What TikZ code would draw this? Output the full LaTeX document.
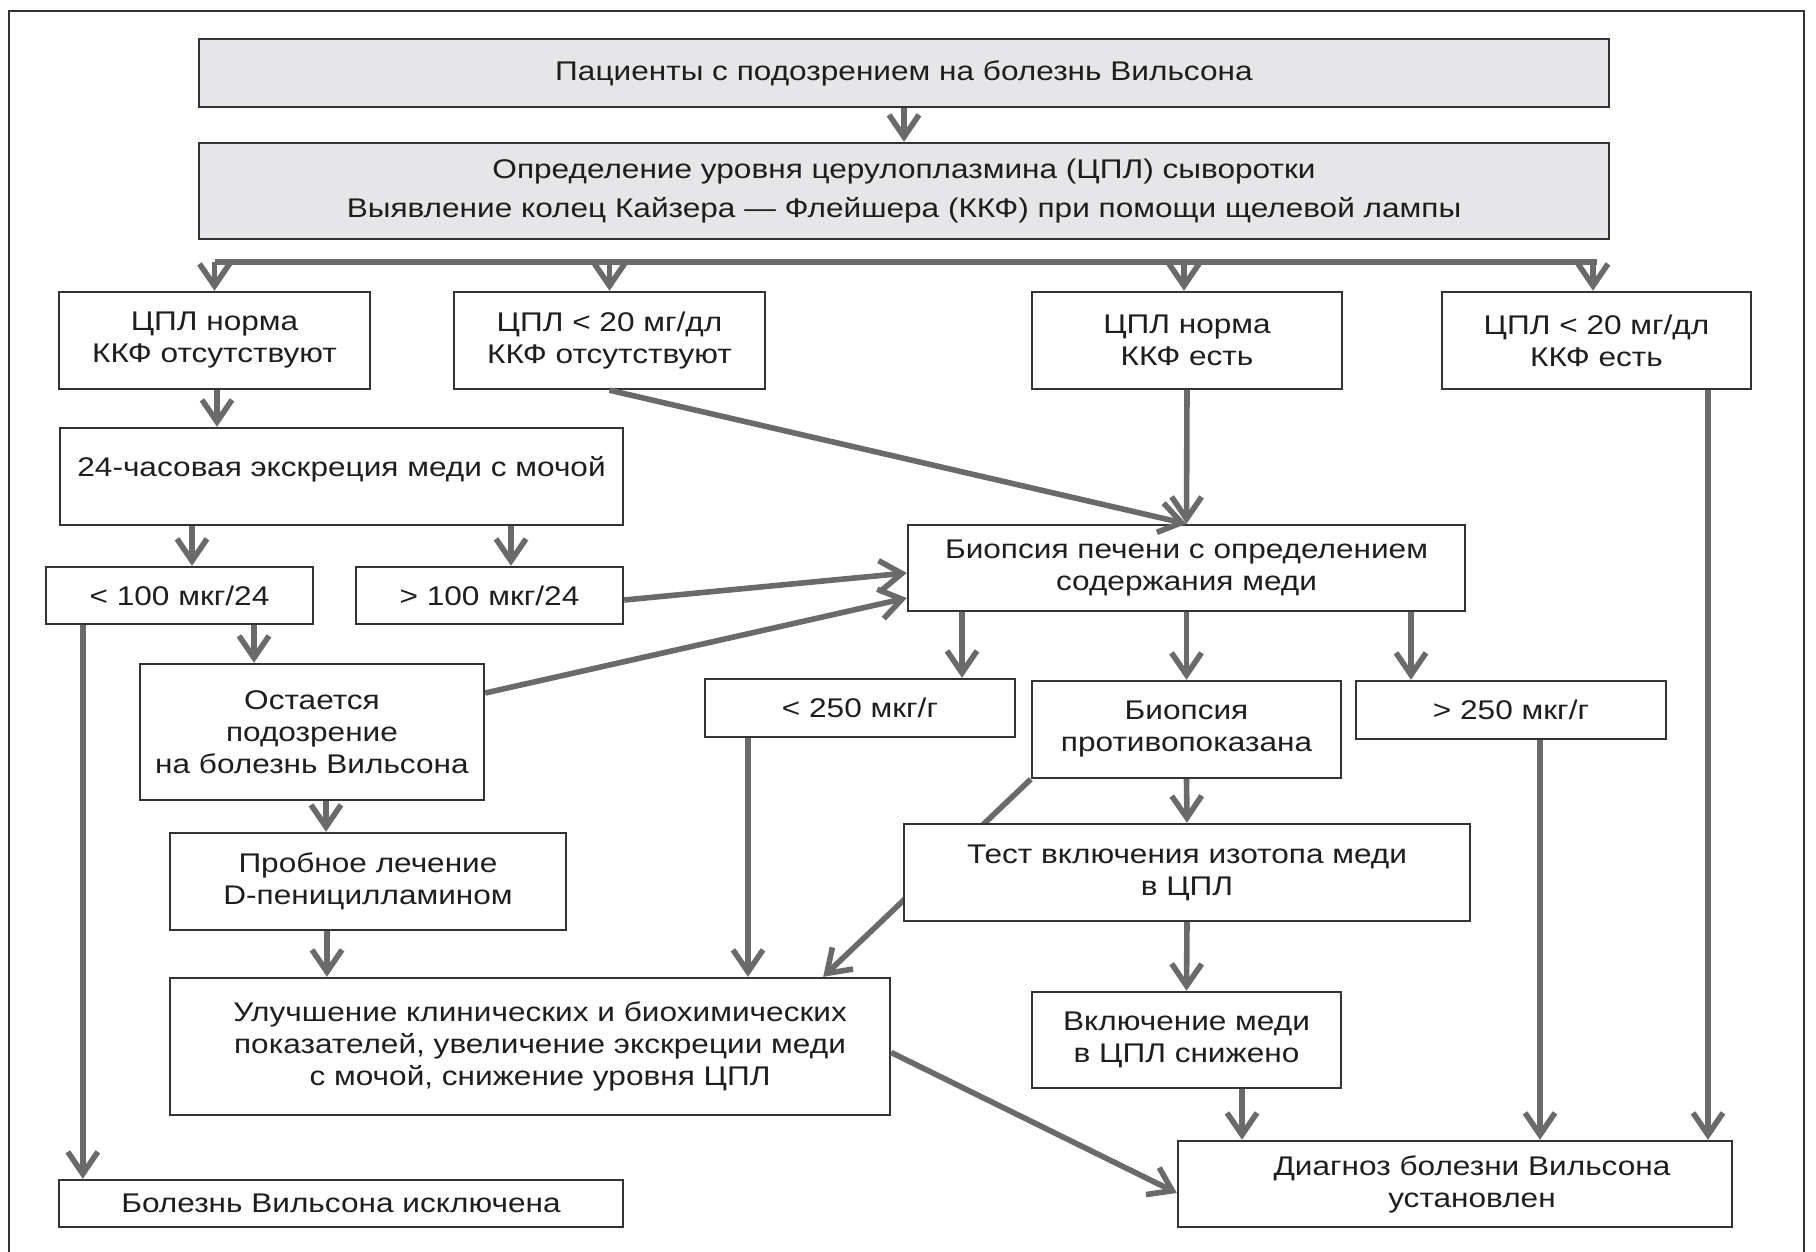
\documentclass[tikz,border=0pt]{standalone}
\usepackage{fontspec}
\setmainfont{Liberation Sans}[FakeStretch=1.17]
\usetikzlibrary{arrows.meta}
\pgfdeclarelayer{bg}
\pgfsetlayers{bg,main}
\definecolor{linec}{HTML}{6A6A6A}
\definecolor{boxc}{HTML}{333333}
\definecolor{txt}{HTML}{1E1E1E}
\definecolor{grayfill}{HTML}{E6E6E8}
\newcommand{\fsn}{\fontsize{13.5}{16}\selectfont}
\newcommand{\fsw}{\fontsize{13.5}{19.5}\selectfont}
\tikzset{
  box/.style={draw=boxc, line width=1.2pt, fill=white, align=center, inner sep=2pt, text=txt, font=\fsn},
  gbox/.style={box, fill=grayfill},
  arr/.style={draw=linec, line width=2.8pt, -{Straight Barb[length=11pt,width=15pt]}},
  lin/.style={draw=linec, line width=2.8pt},
  busline/.style={draw=linec, line width=3.4pt},
  frameline/.style={draw=boxc, line width=1pt},
}
\begin{document}
\begin{tikzpicture}[x=0.5pt,y=-0.5pt]
\useasboundingbox (0,0) rectangle (1816,1252);
\draw[frameline] (9,1256) -- (9,11) -- (1804,11) -- (1804,1256);

\node[gbox, minimum width=705pt, minimum height=34pt] (p1) at (904,73) {Пациенты с подозрением на болезнь Вильсона};
\node[gbox, minimum width=705pt, minimum height=48pt, font=\fsw] (p2) at (904,191) {Определение уровня церулоплазмина (ЦПЛ) сыворотки\\Выявление колец Кайзера — Флейшера (ККФ) при помощи щелевой лампы};

\node[box, minimum width=155.5pt, minimum height=48.5pt] (a) at (214.5,340.5) {ЦПЛ норма\\ККФ отсутствуют};
\node[box, minimum width=155.5pt, minimum height=48.5pt] (b) at (609.5,340.5) {ЦПЛ < 20 мг/дл\\ККФ отсутствуют};
\node[box, minimum width=155pt, minimum height=48.5pt] (c) at (1187,340.5) {ЦПЛ норма\\ККФ есть};
\node[box, minimum width=154.5pt, minimum height=48.5pt] (d) at (1596.5,340.5) {ЦПЛ < 20 мг/дл\\ККФ есть};

\node[box, minimum width=281.5pt, minimum height=48.5pt, text depth=10.5pt] (e) at (341.5,476.5) {24-часовая экскреция меди с мочой};
\node[box, minimum width=133.5pt, minimum height=28.5pt] (f) at (179.5,595.5) {< 100 мкг/24};
\node[box, minimum width=133.5pt, minimum height=28.5pt] (g) at (489.5,595.5) {> 100 мкг/24};
\node[box, minimum width=172pt, minimum height=68pt] (h) at (312,732) {Остается\\подозрение\\на болезнь Вильсона};
\node[box, minimum width=198pt, minimum height=48.5pt] (pr) at (368,881.5) {Пробное лечение\\D-пеницилламином};
\node[box, minimum width=360pt, minimum height=68.5pt] (im) at (530,1046.5) {\hspace*{10pt}Улучшение клинических и биохимических\\\hspace*{10pt}показателей, увеличение экскреции меди\\\hspace*{10pt}с мочой, снижение уровня ЦПЛ};
\node[box, minimum width=282pt, minimum height=23.5pt] (ex) at (341,1203.5) {Болезнь Вильсона исключена};

\node[box, minimum width=278.5pt, minimum height=43pt] (bi) at (1186.5,568) {Биопсия печени с определением\\содержания меди};
\node[box, minimum width=155pt, minimum height=29pt] (lo) at (860,708) {< 250 мкг/г};
\node[box, minimum width=154.5pt, minimum height=48.5pt] (co) at (1186.5,729.5) {Биопсия\\противопоказана};
\node[box, minimum width=155pt, minimum height=29pt] (hi) at (1511,710) {> 250 мкг/г};
\node[box, minimum width=283pt, minimum height=48.5pt] (te) at (1187,872.5) {Тест включения изотопа меди\\в ЦПЛ};
\node[box, minimum width=154.5pt, minimum height=48pt] (in) at (1186.5,1040) {Включение меди\\в ЦПЛ снижено};
\node[box, minimum width=277pt, minimum height=43pt] (dg) at (1455,1184) {\hspace*{17pt}Диагноз болезни Вильсона\\\hspace*{17pt}установлен};

\coordinate (busy) at (904,262);
\begin{pgfonlayer}{bg}
\draw[arr] (co.south west) -- ([xshift=-34pt]im.north east);
\end{pgfonlayer}

\draw[arr] (p1.south) -- (p2.north);
\draw[busline] (a.north |- busy) -- (d.north |- busy);
\draw[arr] (a.north |- busy) -- (a.north);
\draw[arr] (b.north |- busy) -- (b.north);
\draw[arr] ([xshift=-1.5pt]c.north |- busy) -- ([xshift=-1.5pt]c.north);
\draw[arr] ([xshift=-1.75pt]d.north |- busy) -- ([xshift=-1.75pt]d.north);

\draw[arr] ([xshift=1.25pt]a.south) -- ([xshift=1.25pt]a.south |- e.north);
\draw[arr] (b.south) -- (bi.north);
\draw[arr] (c.south) -- (bi.north);
\draw[arr] ([xshift=55.75pt]d.south) -- ([xshift=55.75pt]d.south |- dg.north);

\draw[arr] ([xshift=6.25pt]f.north |- e.south) -- ([xshift=6.25pt]f.north);
\draw[arr] ([xshift=10.75pt]g.north |- e.south) -- ([xshift=10.75pt]g.north);
\draw[arr] ([yshift=-2.25pt]g.east) -- ([yshift=-2.5pt]bi.west);
\draw[arr] ([yshift=19.5pt]h.east) -- ([yshift=-15pt]bi.west);

\draw[arr] ([xshift=19pt]f.south west) -- ([xshift=19pt]f.south west |- ex.north);
\draw[arr] ([xshift=37.25pt]f.south) -- ([xshift=37.25pt]f.south |- h.north);
\draw[arr] ([xshift=7pt]h.south) -- ([xshift=7pt]h.south |- pr.north);
\draw[arr] ([xshift=-20.5pt]pr.south) -- ([xshift=-20.5pt]pr.south |- im.north);

\draw[arr] ([xshift=51pt]lo.north |- bi.south) -- ([xshift=51pt]lo.north);
\draw[arr] (bi.south) -- (co.north);
\draw[arr] ([xshift=-50pt]hi.north |- bi.south) -- ([xshift=-50pt]hi.north);

\draw[arr] ([xshift=-56pt]lo.south) -- ([xshift=-56pt]lo.south |- im.north);
\draw[arr] (co.south) -- (te.north);
\draw[arr] (te.south) -- (in.north);
\draw[arr] ([xshift=27.75pt]in.south) -- ([xshift=27.75pt]in.south |- dg.north);
\draw[arr] ([xshift=14.5pt]hi.south) -- ([xshift=14.5pt]hi.south |- dg.north);
\draw[arr] ([yshift=-3pt]im.east) -- ([yshift=-4.5pt]dg.west);
\end{tikzpicture}
\end{document}
